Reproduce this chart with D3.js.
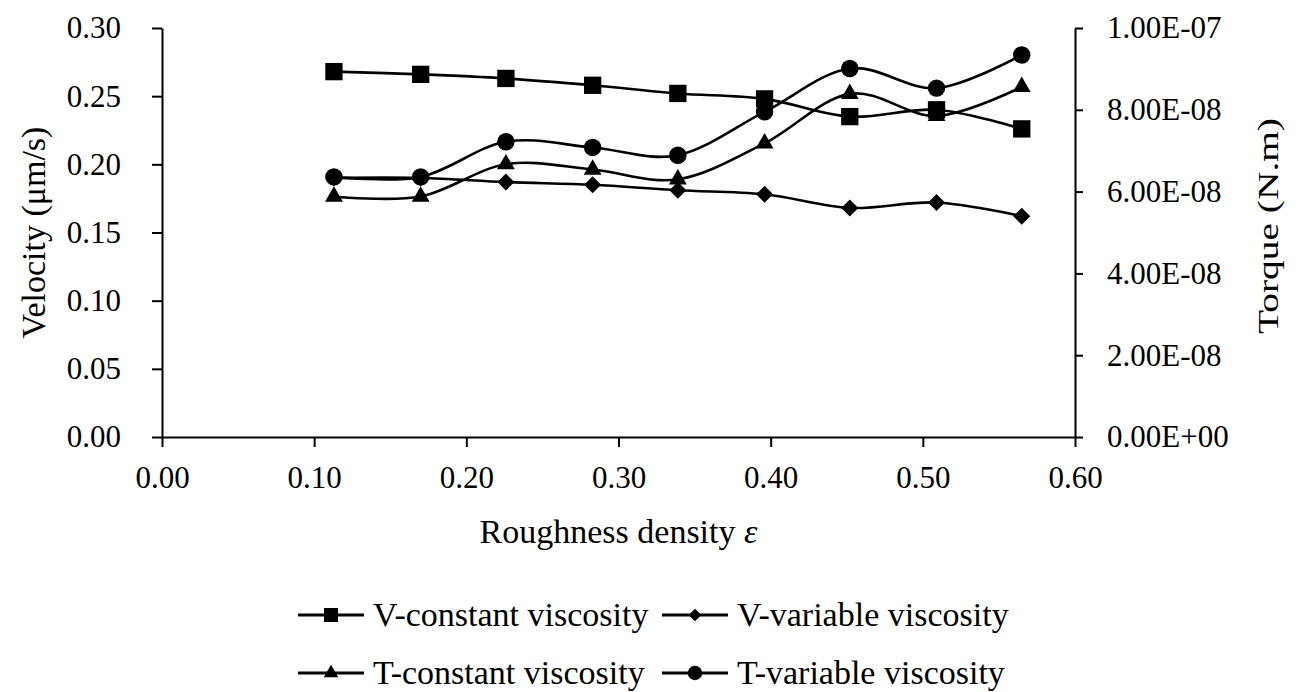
<!DOCTYPE html>
<html>
<head>
<meta charset="utf-8">
<script src="https://cdn.jsdelivr.net/npm/d3@7"></script>
<style>
  body { margin: 0; background: #fff; }
  svg { display: block; }
  text { font-family: "Liberation Serif", "Times New Roman", serif; fill: #000; }
</style>
</head>
<body>
<div id="chart"></div>
<script>
// roughness density on x, velocity on left axis, torque on right axis
var eps = [0.113, 0.170, 0.226, 0.283, 0.339, 0.396, 0.452, 0.509, 0.565];
var vConstant = [0.268, 0.266, 0.263, 0.258, 0.252, 0.248, 0.235, 0.240, 0.226];
var vVariable = [0.190, 0.190, 0.187, 0.185, 0.181, 0.178, 0.168, 0.172, 0.162];
var tConstant = [5.88e-8, 5.88e-8, 6.67e-8, 6.54e-8, 6.30e-8, 7.18e-8, 8.39e-8, 7.85e-8, 8.56e-8];
var tVariable = [6.36e-8, 6.36e-8, 7.22e-8, 7.08e-8, 6.89e-8, 7.95e-8, 9.01e-8, 8.53e-8, 9.34e-8];

var xTicks = [0, 0.1, 0.2, 0.3, 0.4, 0.5, 0.6];
var velocityTicks = [0, 0.05, 0.10, 0.15, 0.20, 0.25, 0.30];
var torqueTicks = [0, 2e-8, 4e-8, 6e-8, 8e-8, 1e-7];
var torqueTickLabels = ["0.00E+00", "2.00E-08", "4.00E-08", "6.00E-08", "8.00E-08", "1.00E-07"];

var seriesNames = ["V-constant viscosity", "V-variable viscosity", "T-constant viscosity", "T-variable viscosity"];

var width = 1297, height = 692;
var plotLeft = 162, plotRight = 1075, plotTop = 28, plotBottom = 437;

var svg = d3.select('#chart').append('svg')
    .attr('width', width)
    .attr('height', height);

var x = d3.scaleLinear().domain([0, 0.6]).range([plotLeft, plotRight]);
var yV = d3.scaleLinear().domain([0, 0.30]).range([plotBottom, plotTop]);
var yT = d3.scaleLinear().domain([0, 1e-7]).range([plotBottom, plotTop]);

function styleAxis(g) {
    g.select('.domain').attr('stroke', '#000').attr('stroke-width', 2);
    g.selectAll('.tick line').attr('stroke', '#000').attr('stroke-width', 2);
    g.selectAll('.tick text').style('font-size', '31px').attr('fill', '#000');
}

svg.append('g')
    .attr('transform', 'translate(0,' + plotBottom + ')')
    .call(d3.axisBottom(x).tickValues(xTicks).tickFormat(d3.format('.2f'))
        .tickSize(10).tickSizeOuter(0).tickPadding(19))
    .call(styleAxis);

svg.append('g')
    .attr('transform', 'translate(' + plotLeft + ',0)')
    .call(d3.axisLeft(yV).tickValues(velocityTicks).tickFormat(d3.format('.2f'))
        .tickSize(10).tickSizeOuter(0).tickPadding(31))
    .call(styleAxis);

svg.append('g')
    .attr('transform', 'translate(' + plotRight + ',0)')
    .call(d3.axisRight(yT).tickValues(torqueTicks).tickFormat(function (d, i) { return torqueTickLabels[i]; })
        .tickSize(8).tickSizeOuter(0).tickPadding(24))
    .call(styleAxis);

// axis titles
var xTitle = svg.append('text')
    .attr('x', (plotLeft + plotRight) / 2)
    .attr('y', 543)
    .attr('text-anchor', 'middle')
    .style('font-size', '34px');
xTitle.append('tspan').text('Roughness density ');
xTitle.append('tspan').style('font-style', 'italic').text('ε');

svg.append('text')
    .attr('transform', 'translate(45,' + (plotTop + plotBottom) / 2 + ') rotate(-90)')
    .attr('text-anchor', 'middle')
    .style('font-size', '34px')
    .text('Velocity (μm/s)');

svg.append('text')
    .attr('transform', 'translate(1278,226) rotate(-90)')
    .attr('text-anchor', 'middle')
    .style('font-size', '30px')
    .attr('textLength', 216)
    .attr('lengthAdjust', 'spacingAndGlyphs')
    .text('Torque (N.m)');

// series: values, scale, marker
var squareSym = d3.symbol().type(d3.symbolSquare);
var diamondSym = d3.symbol().type(d3.symbolSquare);
var triangleSym = d3.symbol().type(d3.symbolTriangle);
var circleSym = d3.symbol().type(d3.symbolCircle);

var series = [
    { name: seriesNames[0], values: vConstant, y: yV, sym: squareSym, size: 300, legendSize: 196, rot: 0 },
    { name: seriesNames[1], values: vVariable, y: yV, sym: diamondSym, size: 144, legendSize: 81, rot: 45 },
    { name: seriesNames[2], values: tConstant, y: yT, sym: triangleSym, size: 138, legendSize: 90, rot: 0 },
    { name: seriesNames[3], values: tVariable, y: yT, sym: circleSym, size: 240, legendSize: 165, rot: 0 }
];

var plot = svg.append('g');

series.forEach(function (s) {
    var pts = eps.map(function (e, i) { return [x(e), s.y(s.values[i])]; });
    var line = d3.line().curve(d3.curveCatmullRom.alpha(0));

    plot.append('path')
        .attr('d', line(pts))
        .attr('fill', 'none')
        .attr('stroke', '#000')
        .attr('stroke-width', 2.6);

    plot.selectAll(null)
        .data(pts)
        .enter().append('path')
        .attr('transform', function (d) { return 'translate(' + d[0] + ',' + d[1] + ') rotate(' + s.rot + ')'; })
        .attr('d', s.sym.size(s.size)())
        .attr('fill', '#000');
});

// legend, two rows of two
var legendCols = [298, 662];
var legendRows = [615, 673];
var legend = svg.append('g');

series.forEach(function (s, i) {
    var lx = legendCols[i % 2];
    var ly = legendRows[Math.floor(i / 2)];
    var item = legend.append('g').attr('transform', 'translate(' + lx + ',' + ly + ')');
    item.append('line')
        .attr('x1', 0).attr('x2', 66)
        .attr('stroke', '#000').attr('stroke-width', 2.8);
    item.append('path')
        .attr('transform', 'translate(33,0) rotate(' + s.rot + ')')
        .attr('d', s.sym.size(s.legendSize)())
        .attr('fill', '#000');
    item.append('text')
        .attr('x', 75)
        .attr('y', 11)
        .style('font-size', '34px')
        .text(s.name);
});
</script>
</body>
</html>
